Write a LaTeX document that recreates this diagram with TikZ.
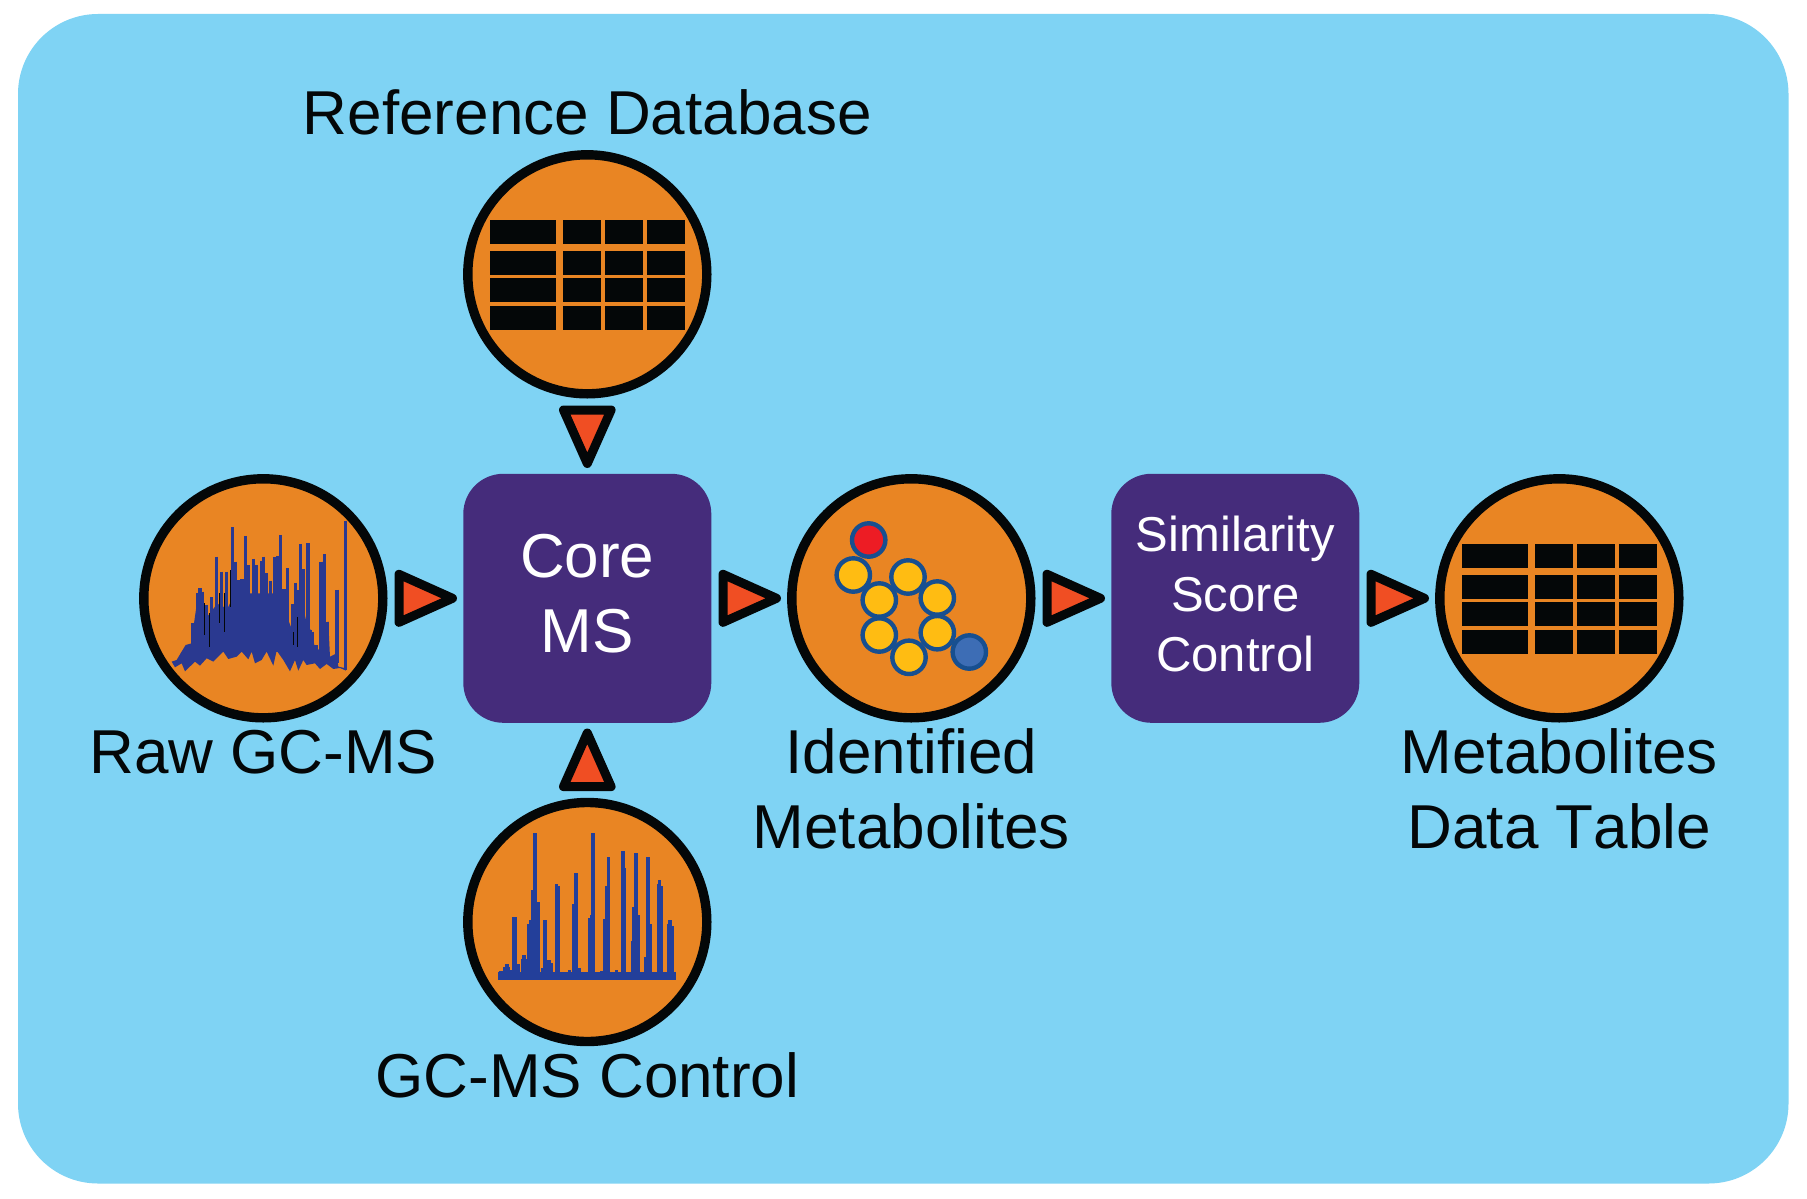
\documentclass[tikz,border=0pt]{standalone}
\usepackage{fontspec}
\setmainfont[Kerning=Off]{Liberation Sans}
\definecolor{bgblue}{HTML}{7FD3F4}
\definecolor{disc}{HTML}{E98523}
\definecolor{panel}{HTML}{452C7B}
\definecolor{tipfill}{HTML}{F04E23}
\definecolor{ink}{HTML}{040708}
\definecolor{rawblue}{HTML}{2A3990}
\definecolor{ctlblue}{HTML}{233F9A}
\definecolor{ringblue}{HTML}{174F90}
\definecolor{atomy}{HTML}{FFBC12}
\definecolor{atomr}{HTML}{ED1C24}
\definecolor{atomb}{HTML}{3D6DB5}
\tikzset{
  disc/.style={circle,draw=ink,fill=disc,line width=9.4pt,minimum size=239pt,inner sep=0pt},
  panelbox/.style={rectangle,rounded corners=40pt,fill=panel,minimum width=248pt,minimum height=249pt,inner sep=0pt},
  tri/.style={draw=ink,fill=tipfill,line width=9pt,line join=round},
  cell/.style={fill=ink},
  atom/.style={circle,draw=ringblue,line width=4.4pt,minimum size=33.4pt,inner sep=0pt},
  lab/.style={font=\fontsize{62}{75}\selectfont,text=ink,align=center,anchor=base,inner sep=0pt},
  boxlab/.style={font=\fontsize{62}{75}\selectfont,text=white,align=center,anchor=base,inner sep=0pt},
  boxlabs/.style={font=\fontsize{49}{60}\selectfont,text=white,align=center,anchor=base,inner sep=0pt},
}
\newcommand{\tablecells}[1]{%
  \foreach \yt/\yb in {-54.3/-30.6,-23.3/0.4,4/28,31.7/55.4}
    \foreach \xl/\xr in {-97.3/-31.6,-24.6/13.7,17.4/55.4,59.4/97.4}
      \fill[cell] ([shift={(\xl,\yt)}]#1.center) rectangle ([shift={(\xr,\yb)}]#1.center);}
\begin{document}
\begin{tikzpicture}[x=1pt,y=-1pt]
\useasboundingbox (0,0) rectangle (1807,1199);
\fill[white] (0,0) rectangle (1807,1199);
\fill[bgblue,rounded corners=80pt] (18,14) rectangle (1788.5,1183.5);

% discs and panels
\node[disc] (raw) at (263.3,598.3) {};
\node[disc] (refdb) at (587.3,274.3) {};
\node[disc] (ctl) at (587.3,922) {};
\node[disc] (ident) at (911.3,598.3) {};
\node[disc] (table) at (1559.3,598.3) {};
\node[panelbox] (core) at (587.3,598.3) {};
\node[panelbox] (sim) at (1235.3,598.3) {};

% panel text
\node[boxlab] (coret1) at (587.3,577) {Core};
\node[boxlab] (coret2) at (587.3,652) {MS};
\node[boxlabs] (simt1) at (1235.3,551.4) {Similarity};
\node[boxlabs] (simt2) at (1235.3,611.4) {Score};
\node[boxlabs] (simt3) at (1235.3,671.4) {Control};

% labels
\node[lab] (lrefdb) at (587.3,134) {Reference Database};
\node[lab] (lraw) at (263.3,773.4) {Raw GC-MS};
\node[lab] (lctl) at (587.3,1097.6) {GC-MS Control};
\node[lab] (lident1) at (911.3,773.4) {Identified};
\node[lab] (lident2) at (911.3,848) {Metabolites};
\node[lab] (ltable1) at (1559.3,773.4) {Metabolites};
\node[lab] (ltable2) at (1559.3,848) {Data Table};

% triangles
\foreach \n in {raw,core,ident,sim}
  \draw[tri] ([shift={(135.7,-24)}]\n.center) -- ++(53.5,24) -- ++(-53.5,24) -- cycle;
\draw[tri] ([shift={(-23.8,-188.3)}]core.center) -- ++(47.6,0) -- ++(-23.8,53.5) -- cycle;
\draw[tri] ([shift={(0,134.7)}]core.center) -- ++(23.8,53.6) -- ++(-47.6,0) -- cycle;

% tables
\tablecells{refdb}
\tablecells{table}

% molecule
\node[atom,fill=atomr] (a0) at (868.7,540) {};
\node[atom,fill=atomy] (a1) at (853.3,575) {};
\node[atom,fill=atomy] (a3) at (908,577) {};
\node[atom,fill=atomy] (a4) at (937.3,598) {};
\node[atom,fill=atomy] (a2) at (879.3,600) {};
\node[atom,fill=atomy] (a5) at (879.3,635) {};
\node[atom,fill=atomy] (a6) at (909,657.3) {};
\node[atom,fill=atomy] (a7) at (937.3,632.7) {};
\node[atom,fill=atomb] (a8) at (969.3,652) {};

% raw spectrum
\begin{scope}[shift={(120,460)},x=0.3333pt,y=-0.3333pt]
\fill[rawblue] (155,605)--(170,600)--(183,578)--(197,555)--(215,550)--(222,490)--(232,420)--(250,430)--(262,470)--(285,440)--(300,430)--(320,450)--(335,420)--(360,385)--(385,400)--(420,400)--(440,400)--(470,400)--(495,400)--(505,480)--(520,520)--(530,420)--(545,420)--(560,490)--(575,515)--(585,565)--(600,570)--(610,490)--(625,485)--(630,590)--(650,580)--(655,620)--(678,625)--(678,632)--(660,624)--(640,627)--(620,612)--(600,627)--(585,610)--(560,615)--(550,600)--(535,632)--(525,600)--(510,634)--(490,600)--(470,572)--(460,617)--(440,575)--(425,600)--(405,610)--(395,575)--(385,598)--(365,575)--(350,590)--(325,597)--(310,575)--(280,605)--(260,595)--(240,617)--(225,605)--(195,634)--(185,610)--(165,622)--cycle;
\foreach \x/\t in {218/490,232/400,240/385,248/395,260/435,275/412,290/290,305/335,320/335,337/202,346/305,354/360,366/358,376/228,385/315,400/297,409/315,425/303,430/290,438/340,452/362,463/292,473/288,482/225,492/388,503/325,518/432,526/368,535/390,542/252,551/328,564/250,570/510,578/515,588/556,603/305,614/283,621/485,651/390,676/182}
  \draw[rawblue,line width=3.2pt] (\x,\t) -- (\x,575);
\draw[rawblue,line width=3.2pt] (676,182) -- (676,630);
\draw[rawblue,line width=3.2pt] (651,390) -- (651,610);
\draw[rawblue,line width=3.2pt] (603,305) -- (603,600);
\foreach \x/\a/\b in {254/430/525,268/460/560,298/400/490,313/400/515,332/330/440,520/515/555,534/470/560}
  \draw[disc,line width=1pt] (\x,\a) -- (\x,\b);
\end{scope}

% control spectrum
\begin{scope}[shift={(450,780)},x=0.3333pt,y=-0.3333pt]
\fill[ctlblue] (144,577) rectangle (678,599);
\foreach \a/\b/\c in {188/198/412,148/160/573,165/175/553,160/178/563,178/190/570,198/207/553,213/232/538,218/227/527,232/238/432,238/245/420,245/250/332,250/260/160,260/268/368,280/289/420,275/282/565,290/300/540,300/306/550,315/322/312,322/328/318,354/362/570,367/373/372,373/382/280,382/390/565,415/421/415,421/425/407,425/434/160,451/459/573,461/466/417,466/471/320,471/479/233,495/503/570,513/522/213,522/527/265,543/548/485,548/552/382,552/561/219,561/568/407,582/590/533,590/598/233,598/603/432,621/625/312,625/632/300,632/636/318,652/656/432,656/663/420,663/669/440}
  \filldraw[ctlblue,line width=0.6pt] (\a,\c) rectangle (\b,590);
\end{scope}
\end{tikzpicture}
\end{document}
